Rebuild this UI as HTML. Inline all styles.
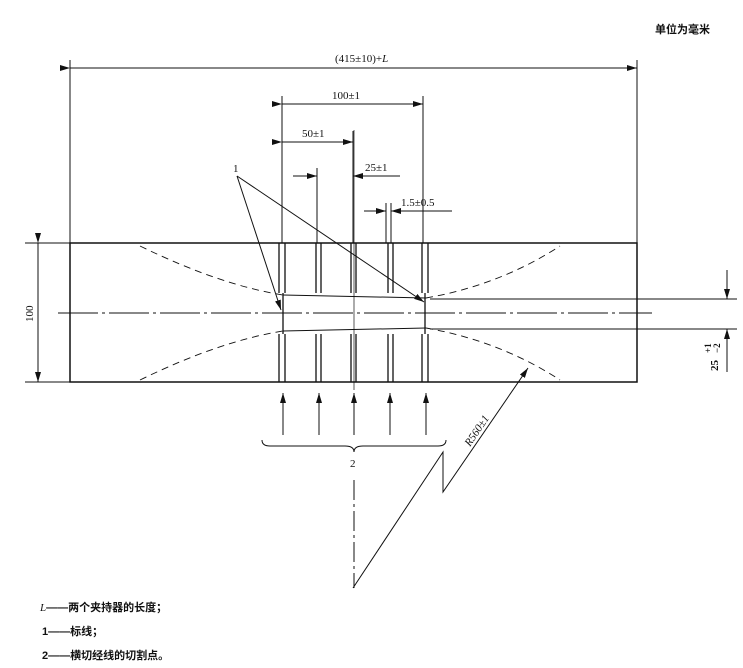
<!DOCTYPE html>
<html><head><meta charset="utf-8"><style>
html,body{margin:0;padding:0;background:#fff;width:743px;height:668px;overflow:hidden}
text{font-family:"Liberation Serif","Noto Serif CJK SC",serif;fill:#111}
.cj{font-family:"Liberation Sans","Noto Sans CJK SC",sans-serif;font-weight:bold}
</style></head><body>
<svg width="743" height="668" viewBox="0 0 743 668" xmlns="http://www.w3.org/2000/svg">
<defs><marker id="a" markerWidth="10" markerHeight="6" refX="10" refY="3" orient="auto" markerUnits="userSpaceOnUse"><path d="M0,0 L10,3 L0,6z" fill="#111"/></marker></defs>
<g stroke="#111" fill="none" stroke-width="1">
<text x="655" y="33" class="cj" font-size="11" stroke="none">单位为毫米</text>
<line x1="70" y1="60" x2="70" y2="243"/><line x1="637" y1="60" x2="637" y2="243"/>
<line x1="70" y1="68" x2="637" y2="68" marker-start="url(#a)" marker-end="url(#a)"/>
<line x1="282" y1="96" x2="282" y2="243"/><line x1="423" y1="96" x2="423" y2="243"/>
<line x1="282" y1="104" x2="423" y2="104" marker-start="url(#a)" marker-end="url(#a)"/>
<line x1="353" y1="131" x2="353" y2="243"/>
<line x1="282" y1="142" x2="353" y2="142" marker-start="url(#a)" marker-end="url(#a)"/>
<line x1="317" y1="168" x2="317" y2="243"/>
<line x1="293" y1="176" x2="317" y2="176" marker-end="url(#a)"/>
<line x1="400" y1="176" x2="353" y2="176" marker-end="url(#a)"/>
<line x1="386" y1="203" x2="386" y2="243"/><line x1="391" y1="203" x2="391" y2="243"/>
<line x1="364" y1="211" x2="386" y2="211" marker-end="url(#a)"/>
<line x1="452" y1="211" x2="391" y2="211" marker-end="url(#a)"/>
<rect x="70" y="243" width="567" height="139" stroke-width="1.5"/>
<line x1="25" y1="243" x2="70" y2="243"/><line x1="25" y1="382" x2="70" y2="382"/>
<line x1="38" y1="243" x2="38" y2="382" marker-start="url(#a)" marker-end="url(#a)"/>
<line x1="58" y1="313" x2="652" y2="313" stroke-dasharray="40,4,3,4"/>
<line x1="430" y1="299" x2="737" y2="299"/><line x1="430" y1="329" x2="737" y2="329"/>
<line x1="727" y1="270" x2="727" y2="299" marker-end="url(#a)"/>
<line x1="727" y1="372" x2="727" y2="329" marker-end="url(#a)"/>
<path d="M283,295 L426,298 M283,331 L426,328" />
<path d="M140,246 Q220,285 283,295 M426,298 Q500,285 560,246 M140,380 Q220,341 283,331 M426,328 Q500,341 560,380" stroke-dasharray="7,5" stroke-width="0.9"/>
<g stroke-width="1.3">
<path d="M279,243V293M285,243V293M279,334V382M285,334V382M283,293V334"/>
<path d="M316,243V293M321,243V293M316,334V382M321,334V382"/>
<path d="M351,243V293M356,243V293M351,334V382M356,334V382"/>
<path d="M388,243V293M393,243V293M388,334V382M393,334V382"/>
<path d="M422,243V293M428,243V293M422,334V382M428,334V382M425,293V334"/>
</g>
<line x1="237" y1="176" x2="281" y2="310" marker-end="url(#a)"/>
<line x1="237" y1="176" x2="424" y2="302" marker-end="url(#a)"/>
<line x1="283" y1="435" x2="283" y2="393" marker-end="url(#a)"/>
<line x1="319" y1="435" x2="319" y2="393" marker-end="url(#a)"/>
<line x1="354" y1="435" x2="354" y2="393" marker-end="url(#a)"/>
<line x1="390" y1="435" x2="390" y2="393" marker-end="url(#a)"/>
<line x1="426" y1="435" x2="426" y2="393" marker-end="url(#a)"/>
<path d="M262,440 Q262,446 270,446 L345,446 Q354,446 354,452 Q354,446 363,446 L438,446 Q446,446 446,440"/>
<line x1="354" y1="130" x2="354" y2="390" stroke-width="0.7"/>
<line x1="354" y1="480" x2="354" y2="588" stroke-dasharray="20,4,3,4"/>
<path d="M353,588 L443,452 L443,492 L528,368" marker-end="url(#a)"/>
</g>
<g font-size="11">
<text x="335" y="62">(415±10)+<tspan font-style="italic">L</tspan></text>
<text x="332" y="99">100±1</text>
<text x="302" y="137">50±1</text>
<text x="365" y="171">25±1</text>
<text x="401" y="206">1.5±0.5</text>
<text x="233" y="172">1</text>
<text x="350" y="467">2</text>
<text transform="translate(33,322) rotate(-90)">100</text>
<text transform="translate(718,371) rotate(-90)" font-weight="bold">25</text>
<text transform="translate(711,353) rotate(-90)" font-size="9" font-weight="bold">+1</text>
<text transform="translate(720,353) rotate(-90)" font-size="9" font-weight="bold">−2</text>
<text transform="translate(470,447) rotate(-56)" font-style="italic">R560±1</text>
</g>
<g font-size="11">
<text x="40" y="611" class="cj"><tspan font-family="Liberation Serif" font-style="italic" font-weight="normal">L</tspan>——两个夹持器的长度；</text>
<text x="42" y="635" class="cj">1——标线；</text>
<text x="42" y="659" class="cj">2——横切经线的切割点。</text>
</g>
</svg>
</body></html>
